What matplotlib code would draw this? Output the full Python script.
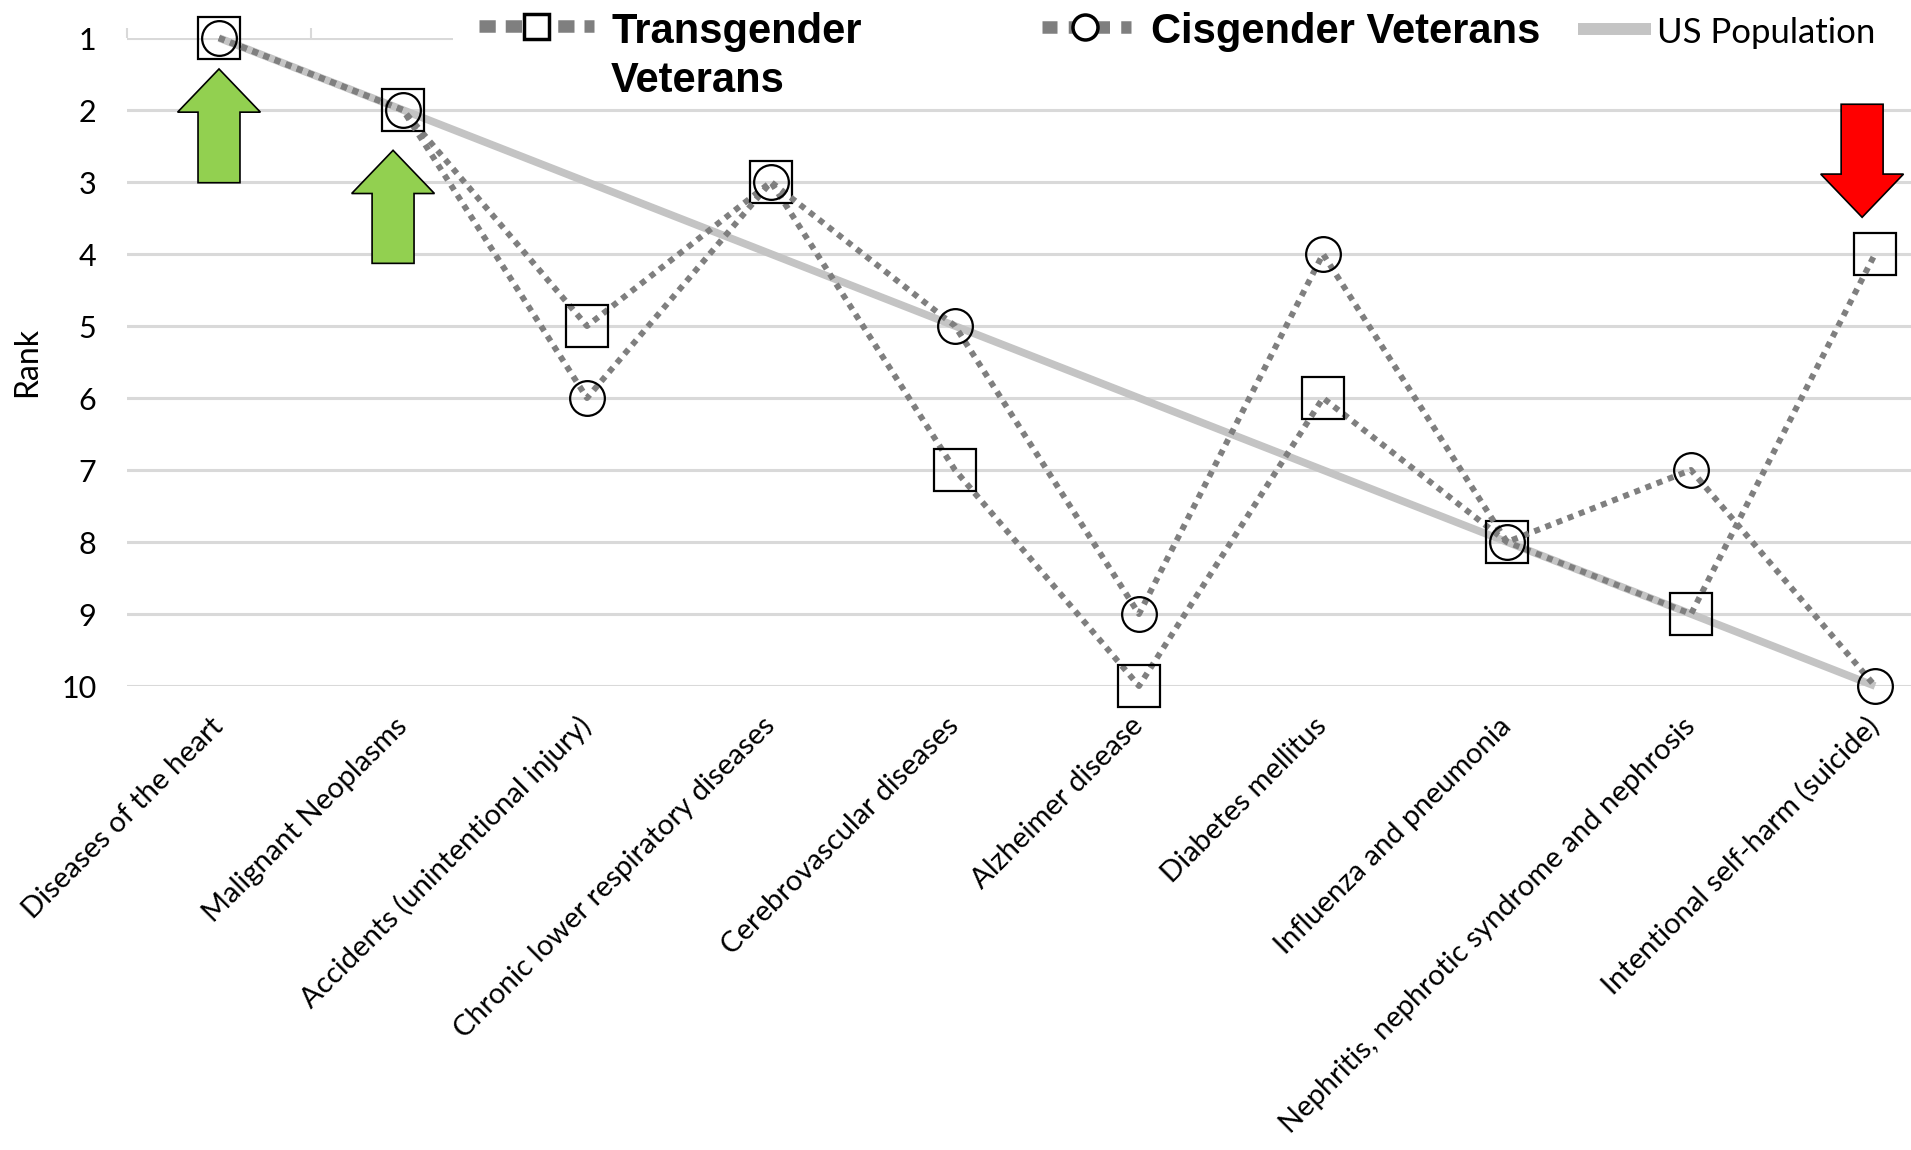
import numpy as np
import matplotlib.pyplot as plt
from matplotlib.lines import Line2D
from matplotlib.patches import Rectangle, FancyArrow

# data
causes = [
    "Diseases of the heart",
    "Malignant Neoplasms",
    "Accidents (unintentional injury)",
    "Chronic lower respiratory diseases",
    "Cerebrovascular diseases",
    "Alzheimer disease",
    "Diabetes mellitus",
    "Influenza and pneumonia",
    "Nephritis, nephrotic syndrome and nephrosis",
    "Intentional self-harm (suicide)",
]
transgender_rank = [1, 2, 5, 3, 7, 10, 6, 8, 9, 4]
cisgender_rank = [1, 2, 6, 3, 5, 9, 4, 8, 7, 10]
us_rank = [1, 2, 3, 4, 5, 6, 7, 8, 9, 10]
rank_ticks = [1, 2, 3, 4, 5, 6, 7, 8, 9, 10]

W, H = 1911, 1150
DOT_GREY = "#7f7f7f"
US_GREY = "#c4c4c4"
GRID_GREY = "#d9d9d9"


def fx(px):
    return px / W


def fy(py):
    return 1 - py / H


fig = plt.figure(figsize=(W / 100, H / 100), dpi=100)
ax = fig.add_axes([fx(127), fy(686), 1840 / W, 648 / H])

x = np.arange(len(causes))

ax.plot(x, us_rank, color=US_GREY, lw=5.5, solid_capstyle="butt", zorder=2,
        clip_on=False)
ax.plot(x, transgender_rank, color=DOT_GREY, lw=4.3, ls=(0, (1, 1)),
        dash_capstyle="butt", marker="s", ms=30, mfc="none", mec="black",
        mew=1.6, zorder=3, clip_on=False)
ax.plot(x, cisgender_rank, color=DOT_GREY, lw=4.3, ls=(0, (1, 1)),
        dash_capstyle="butt", marker="o", ms=25, mfc="none", mec="black",
        mew=1.6, zorder=3, clip_on=False)

ax.set_xlim(-0.5, len(causes) - 0.5)
ax.set_ylim(10, 1)
ax.set_yticks(rank_ticks)
ax.set_xticks(x)
ax.set_xticks(np.arange(-0.5, len(causes)), minor=True)
ax.set_xticklabels(causes, rotation=45, ha="right", va="center",
                   rotation_mode="anchor", fontsize=21, family="Lato")
for lab in ax.get_yticklabels():
    lab.set_family("Lato")
    lab.set_fontsize(22)

ax.tick_params(axis="x", which="major", length=0, pad=26)
ax.tick_params(axis="x", which="minor", top=True, bottom=False, length=7,
               width=1.5, color=GRID_GREY, direction="out")
ax.tick_params(axis="y", length=0, pad=22)
ax.yaxis.grid(True, color=GRID_GREY, lw=2.2)
ax.set_axisbelow(True)
for s in ax.spines.values():
    s.set_visible(False)

ax.set_ylabel("Rank", fontsize=23, family="Lato", labelpad=14)

# arrows marking the notable ranks
arrow_kw = dict(width=0.228, head_width=0.45, length_includes_head=True,
                ec="black", lw=1.2, zorder=5, clip_on=False)
ax.add_patch(FancyArrow(0, 3.01, 0, -1.58, head_length=0.6, fc="#92d050",
                        **arrow_kw))
ax.add_patch(FancyArrow(0.946, 4.13, 0, -1.57, head_length=0.6, fc="#92d050",
                        **arrow_kw))
ax.add_patch(FancyArrow(8.93, 1.92, 0, 1.57, head_length=0.6, fc="#ff0000",
                        **arrow_kw))

# legend drawn by hand across the top
fig.patches.append(Rectangle((fx(453), fy(102)), fx(W) - fx(453),
                             fy(0) - fy(102), transform=fig.transFigure,
                             fc="white", ec="none", zorder=4))

fig.add_artist(Line2D([fx(479), fx(594)], [fy(26), fy(26)], color=DOT_GREY,
                      lw=9, ls=(0, (1.3, 0.8)), dash_capstyle="butt",
                      zorder=6))
fig.add_artist(Line2D([fx(536)], [fy(26)], marker="s", ms=18, mfc="white",
                      mec="black", mew=2.5, zorder=7))
fig.add_artist(Line2D([fx(1042), fx(1131)], [fy(27), fy(27)],
                      color=DOT_GREY, lw=9, ls=(0, (1.2, 0.9)),
                      dash_capstyle="butt", zorder=6))
fig.add_artist(Line2D([fx(1085)], [fy(27)], marker="o", ms=18,
                      mfc="white", mec="black", mew=2.5, zorder=7))
fig.add_artist(Line2D([fx(1578), fx(1651)], [fy(29), fy(29)],
                      color=US_GREY, lw=8.6, solid_capstyle="butt",
                      zorder=6))

legend_font = dict(fontsize=30, fontweight="bold", family="Liberation Sans",
                   ha="left", va="baseline", zorder=8)
fig.text(fx(611), fy(43), "Transgender", **legend_font)
fig.text(fx(611), fy(92), "Veterans", **legend_font)
fig.text(fx(1151), fy(43), "Cisgender Veterans", **legend_font)
fig.text(fx(1657), fy(43), "US Population", fontsize=25, family="Lato",
         ha="left", va="baseline", zorder=8)

fig.savefig("out.png", dpi=100, facecolor="white")
